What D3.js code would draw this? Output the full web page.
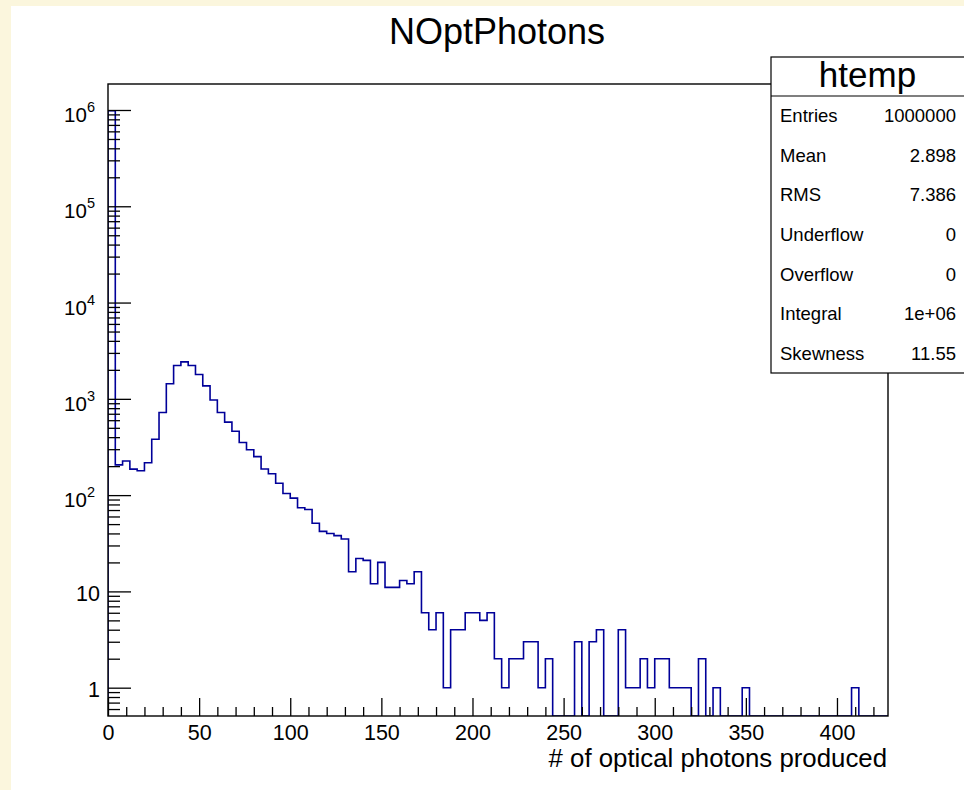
<!DOCTYPE html>
<html>
<head>
<meta charset="utf-8">
<script src="https://cdn.jsdelivr.net/npm/d3@7"></script>
<style>
  html, body { margin: 0; padding: 0; background: #fbf6dd; }
  svg { display: block; }
  text { font-family: "Liberation Sans", Arial, Helvetica, sans-serif; fill: #000; }
</style>
</head>
<body>
<svg id="chart" width="964" height="790"></svg>
<script>
// Histogram "NOptPhotons": 107 bins of width 4 over [0, 428]
const binWidth = 4;
const xMin = 0;
const xMax = 428;
const counts = [
  981500, 206, 226, 186, 179, 217, 380, 722, 1432, 2220,
  2420, 2220, 1790, 1365, 973, 722, 573, 460, 352, 296,
  251, 187, 167, 133, 104, 93, 74, 71, 51, 42,
  40, 38, 35, 16, 22, 21, 12, 20, 11, 11,
  13, 12, 16, 6, 4, 6, 1, 4, 4, 6,
  6, 5, 6, 2, 1, 2, 2, 3, 3, 1,
  2, 0, 0, 0, 3, 0, 3, 4, 0, 0,
  4, 1, 1, 2, 1, 2, 2, 1, 1, 1,
  0, 2, 0, 1, 0, 0, 0, 1, 0, 0,
  0, 0, 0, 0, 0, 0, 0, 0, 0, 0,
  0, 0, 1, 0, 0, 0, 0
];

// Axis tick values
const xMajorTicks = [0, 50, 100, 150, 200, 250, 300, 350, 400];
const xMinorTicks = [10, 20, 30, 40, 60, 70, 80, 90, 110, 120, 130, 140, 160, 170, 180, 190,
  210, 220, 230, 240, 260, 270, 280, 290, 310, 320, 330, 340, 360, 370, 380, 390, 410, 420];
const yMajorTicks = [1, 10, 1e2, 1e3, 1e4, 1e5, 1e6];
const yMajorExponents = [0, 1, 2, 3, 4, 5, 6];
const yMinorMantissas = [2, 3, 4, 5, 6, 7, 8, 9];
const yBelowOneTicks = [0.6, 0.7, 0.8, 0.9];
const yMin = 0.508;
const yMax = 1.862e6;

// Statistics box
const statsTitle = "htemp";
const statsLabels = ["Entries", "Mean", "RMS", "Underflow", "Overflow", "Integral", "Skewness"];
const statsValues = ["1000000", "2.898", "7.386", "0", "0", "1e+06", "11.55"];

const titleText = "NOptPhotons";
const xTitleText = "# of optical photons produced";

const svg = d3.select("#chart");

// Pad: white canvas inside the cream window border
svg.append("rect").attr("x", 0).attr("y", 0).attr("width", 964).attr("height", 790).attr("fill", "#fbf6dd");
svg.append("rect").attr("x", 11).attr("y", 6).attr("width", 953).attr("height", 784).attr("fill", "#ffffff");

const frame = { left: 108, right: 888, top: 84, bottom: 716 };

const x = d3.scaleLinear().domain([xMin, xMax]).range([frame.left, frame.right]);
const y = d3.scaleLog().domain([yMin, yMax]).range([frame.bottom, frame.top]);

// Histogram outline
const pts = [[xMin, null]];
counts.forEach((c, i) => {
  const lo = xMin + i * binWidth;
  pts.push([lo, c], [lo + binWidth, c]);
});
pts.push([xMax, null]);

const yPos = v => (v && v > 0) ? y(v) : frame.bottom;

svg.append("defs").append("clipPath").attr("id", "frameClip")
  .append("rect")
  .attr("x", frame.left).attr("y", frame.top)
  .attr("width", frame.right - frame.left).attr("height", frame.bottom - frame.top);

const line = d3.line().x(d => x(d[0])).y(d => yPos(d[1]));

svg.append("path")
  .datum(pts)
  .attr("clip-path", "url(#frameClip)")
  .attr("d", line)
  .attr("fill", "none")
  .attr("stroke", "#000099")
  .attr("stroke-width", 1.6)
  .attr("stroke-linejoin", "miter");

// Frame
svg.append("rect")
  .attr("x", frame.left).attr("y", frame.top)
  .attr("width", frame.right - frame.left).attr("height", frame.bottom - frame.top)
  .attr("fill", "none").attr("stroke", "#000").attr("stroke-width", 1.4);

// X axis: major ticks with labels, minor ticks without
const xAxisG = svg.append("g").attr("transform", `translate(0,${frame.bottom})`);
xAxisG.call(d3.axisBottom(x).tickValues(xMajorTicks).tickSizeInner(-18).tickSizeOuter(0).tickFormat(d3.format("d")));
xAxisG.select(".domain").remove();
xAxisG.selectAll(".tick line").attr("stroke", "#000").attr("stroke-width", 1.3);
xAxisG.selectAll(".tick text")
  .attr("y", 24).attr("dy", 0)
  .style("font-size", "21.5px")
  .style("font-family", "'Liberation Sans', Arial, Helvetica, sans-serif");

const xMinorG = svg.append("g").attr("transform", `translate(0,${frame.bottom})`);
xMinorG.call(d3.axisBottom(x).tickValues(xMinorTicks).tickSizeInner(-9).tickSizeOuter(0).tickFormat(""));
xMinorG.select(".domain").remove();
xMinorG.selectAll(".tick line").attr("stroke", "#000").attr("stroke-width", 1.3);

// Y axis (log): decades labelled, minors in between
const yAxisG = svg.append("g").attr("transform", `translate(${frame.left},0)`);
yAxisG.call(d3.axisLeft(y).tickValues(yMajorTicks).tickSizeInner(-23).tickSizeOuter(0).tickFormat(""));
yAxisG.select(".domain").remove();
yAxisG.selectAll(".tick line").attr("stroke", "#000").attr("stroke-width", 1.3);
yAxisG.selectAll(".tick text").remove();

yAxisG.selectAll(".tick").each(function(d, i) {
  const e = yMajorExponents[i];
  const g = d3.select(this);
  if (e <= 1) {
    g.append("text")
      .attr("x", -8).attr("y", 9)
      .attr("text-anchor", "end")
      .style("font-size", "21.5px")
      .text(e === 0 ? "1" : "10");
  } else {
    const t = g.append("text")
      .attr("x", -13).attr("y", 11.5)
      .attr("text-anchor", "end");
    t.append("tspan").style("font-size", "20.5px").text("10");
    t.append("tspan").attr("dy", -10).style("font-size", "14.5px").text(String(e));
  }
});

const yMinorValues = [];
yBelowOneTicks.forEach(v => yMinorValues.push(v));
yMajorTicks.forEach(dec => yMinorMantissas.forEach(m => {
  const v = m * dec;
  if (v < yMax) yMinorValues.push(v);
}));

const yMinorG = svg.append("g").attr("transform", `translate(${frame.left},0)`);
yMinorG.call(d3.axisLeft(y).tickValues(yMinorValues).tickSizeInner(-12).tickSizeOuter(0).tickFormat(""));
yMinorG.select(".domain").remove();
yMinorG.selectAll(".tick line").attr("stroke", "#000").attr("stroke-width", 1.3);

// Titles
svg.append("text")
  .attr("x", 497).attr("y", 44)
  .attr("text-anchor", "middle")
  .style("font-size", "36px")
  .text(titleText);

svg.append("text")
  .attr("x", frame.right - 1).attr("y", 767)
  .attr("text-anchor", "end")
  .style("font-size", "25.8px")
  .text(xTitleText);

// Statistics box
const box = { left: 771, top: 57, right: 970, sep: 96, bottom: 373 };
svg.append("rect")
  .attr("x", box.left).attr("y", box.top)
  .attr("width", box.right - box.left).attr("height", box.bottom - box.top)
  .attr("fill", "#fff").attr("stroke", "#000").attr("stroke-width", 1.2);
svg.append("line")
  .attr("x1", box.left).attr("x2", box.right)
  .attr("y1", box.sep).attr("y2", box.sep)
  .attr("stroke", "#000").attr("stroke-width", 1.2);
svg.append("text")
  .attr("x", (box.left + 964) / 2).attr("y", 87)
  .attr("text-anchor", "middle")
  .style("font-size", "35px")
  .text(statsTitle);

const rowH = (box.bottom - box.sep) / statsLabels.length;
statsLabels.forEach((lab, i) => {
  const cy = box.sep + rowH * (i + 0.5);
  svg.append("text")
    .attr("x", 780).attr("y", cy + 6.5)
    .style("font-size", "18.5px")
    .text(lab);
  svg.append("text")
    .attr("x", 956).attr("y", cy + 6.5)
    .attr("text-anchor", "end")
    .style("font-size", "18.5px")
    .text(statsValues[i]);
});
</script>
</body>
</html>
